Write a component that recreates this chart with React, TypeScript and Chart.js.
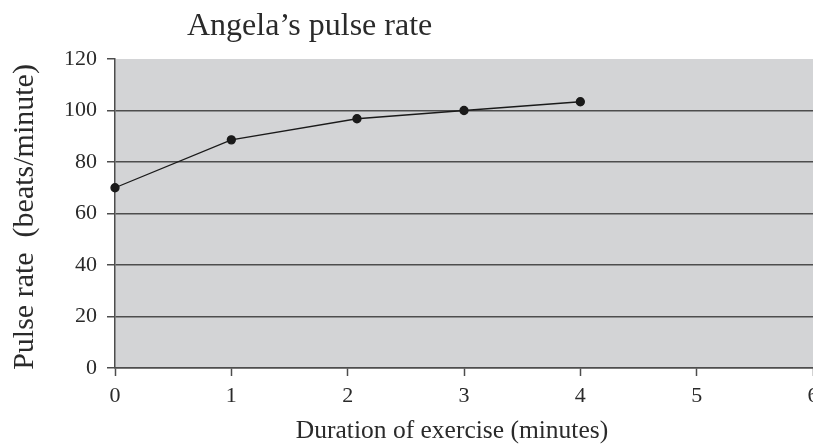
import React, { useEffect, useRef } from "react";
import { Chart, registerables } from "chart.js";

Chart.register(...registerables);

const minutes = [0, 1, 2.08, 3, 4];
const pulse = [70, 88.6, 96.8, 100, 103.4];
const chartTitle = "Angela\u2019s pulse rate";
const xTitle = "Duration of exercise (minutes)";
const yTitle = "Pulse rate  (beats/minute)";

const FONT = "'Liberation Serif', 'Times New Roman', serif";
const INK = "#2a2a2a";
const GRID = "#4d4d4d";

const bgPlugin = {
  id: "plotBg",
  beforeDraw(chart: any) {
    const { ctx, chartArea } = chart;
    ctx.save();
    ctx.fillStyle = "#d3d4d6";
    ctx.fillRect(chartArea.left, chartArea.top, chartArea.right - chartArea.left, chartArea.bottom - chartArea.top);
    ctx.restore();
  },
};

const titlePlugin = {
  id: "titles",
  afterDraw(chart: any) {
    const { ctx } = chart;
    ctx.save();
    ctx.fillStyle = INK;
    ctx.textBaseline = "alphabetic";
    ctx.font = `32px ${FONT}`;
    ctx.textAlign = "left";
    ctx.fillText(chartTitle, 187, 35);
    ctx.font = `25.5px ${FONT}`;
    ctx.textAlign = "center";
    ctx.fillText(xTitle, 452, 438);
    ctx.translate(33, 217);
    ctx.rotate(-Math.PI / 2);
    ctx.font = `30px ${FONT}`;
    ctx.fillText(yTitle, 0, 0);
    ctx.restore();
  },
};

export default function App() {
  const ref = useRef<HTMLCanvasElement>(null);
  useEffect(() => {
    if (!ref.current) return;
    const chart = new Chart(ref.current, {
      type: "line",
      data: {
        datasets: [
          {
            data: minutes.map((m, i) => ({ x: m, y: pulse[i] })),
            borderColor: "#1a1a1a",
            borderWidth: 1.3,
            pointRadius: 4,
            pointBackgroundColor: "#1a1a1a",
            pointBorderColor: "#1a1a1a",
            tension: 0,
            clip: false,
          },
        ],
      },
      options: {
        animation: false,
        responsive: false,
        layout: { autoPadding: false, padding: { top: 59, left: 0, right: 0, bottom: 0 } },
        plugins: { legend: { display: false }, tooltip: { enabled: false }, title: { display: false } },
        scales: {
          x: {
            type: "linear",
            min: 0,
            max: 6,
            ticks: { stepSize: 1, color: INK, font: { family: FONT, size: 22 }, padding: 7 },
            grid: { drawOnChartArea: false, tickLength: 8, tickColor: GRID, tickWidth: 1.5 },
            border: { color: GRID, width: 1.5 },
            afterFit(scale: any) {
              scale.height = 78;
              scale.paddingLeft = 0;
              scale.paddingRight = 0;
            },
          },
          y: {
            min: 0,
            max: 120,
            ticks: { stepSize: 20, color: INK, font: { family: FONT, size: 22 }, padding: 10 },
            grid: {
              color: (c: any) => (c.tick && c.tick.value === 120 ? "rgba(0,0,0,0)" : GRID),
              tickColor: GRID,
              lineWidth: 1.5,
              tickLength: 8,
            },
            border: { color: GRID, width: 1.5 },
            afterFit(scale: any) {
              scale.width = 115;
              scale.paddingTop = 0;
              scale.paddingBottom = 0;
            },
          },
        },
      },
      plugins: [bgPlugin, titlePlugin],
    } as any);
    return () => chart.destroy();
  }, []);
  return (
    <div style={{ position: "absolute", left: 0, top: 0, width: 813, height: 446 }}>
      <canvas ref={ref} width={813} height={446} style={{ width: 813, height: 446 }} />
    </div>
  );
}
